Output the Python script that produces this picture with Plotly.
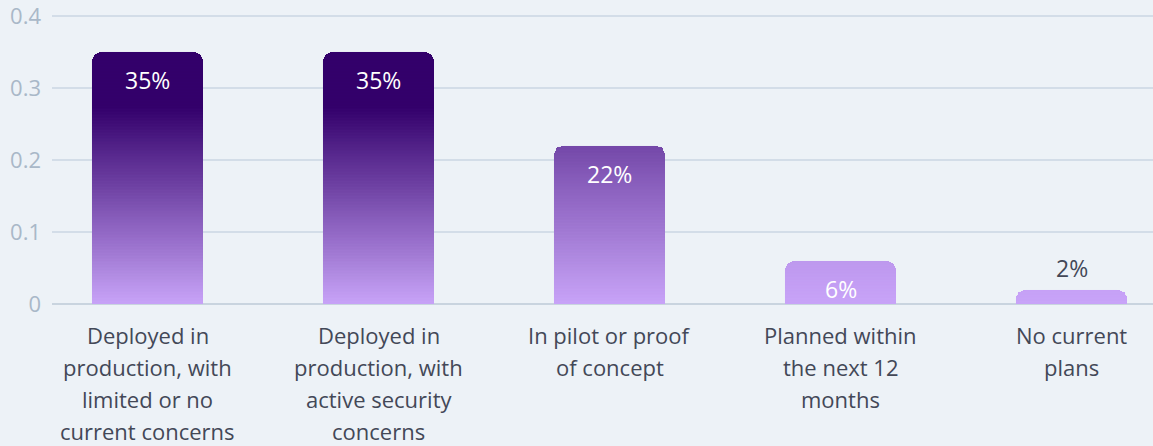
import plotly.graph_objects as go

# --- data -------------------------------------------------------------
categories = [
    "Deployed in production, with limited or no current concerns",
    "Deployed in production, with active security concerns",
    "In pilot or proof of concept",
    "Planned within the next 12 months",
    "No current plans",
]
label_lines = [
    ["Deployed in", "production, with", "limited or no", "current concerns"],
    ["Deployed in", "production, with", "active security", "concerns"],
    ["In pilot or proof", "of concept"],
    ["Planned within", "the next 12", "months"],
    ["No current", "plans"],
]
shares = [0.35, 0.35, 0.22, 0.06, 0.02]
value_labels = ["35%", "35%", "22%", "6%", "2%"]
y_ticks = [0, 0.1, 0.2, 0.3, 0.4]
y_tick_text = ["0", "0.1", "0.2", "0.3", "0.4"]

# --- style ------------------------------------------------------------
BG = "#edf2f7"
GRID = "#d3dde8"
TICK_COLOR = "#a9b8c8"
TEXT_DARK = "#434857"
LIGHT = (200, 164, 248)
DARK = (51, 0, 107)
FONT = "Open Sans"
SLICE = 0.4 / 288 * 1.5  # target height of the stacked slices forming the gradient


def mix(w):
    w = max(0.0, min(1.0, w))
    r, g, b = (round(LIGHT[i] + (DARK[i] - LIGHT[i]) * w) for i in range(3))
    return f"rgb({r},{g},{b})"


def shade(y, h):
    # darker toward the top, taller bars reach the deepest tone
    return mix(y * (h + 0.083) / 0.119)


xs = list(range(len(categories)))
fig = go.Figure()

# each bar is cut into equal slices so that every bar ends on a slice edge
counts = [max(1, round(h / SLICE)) for h in shares]
steps = [h / n for h, n in zip(shares, counts)]
for k in range(max(counts)):
    seg, cols = [], []
    for h, n, s in zip(shares, counts, steps):
        if k < n:
            seg.append(s)
            cols.append(shade((k + 0.5) * s, h))
        else:
            seg.append(None)
            cols.append("rgba(0,0,0,0)")
    fig.add_trace(go.Bar(
        x=xs, y=seg, width=0.48,
        marker=dict(color=cols, line=dict(color=cols, width=0.02)),
        hoverinfo="skip", showlegend=False,
    ))

# value labels
for x, h, t in zip(xs, shares, value_labels):
    inside = h >= 0.05
    fig.add_annotation(
        x=x, y=h, text=t, showarrow=False,
        yanchor="middle", yshift=-28 if inside else 22,
        font=dict(family=FONT, size=23, weight=500,
                  color="white" if inside else TEXT_DARK),
    )

# category labels, one annotation per line
for x, lines in zip(xs, label_lines):
    for i, line in enumerate(lines):
        fig.add_annotation(
            x=x, xref="x", y=0, yref="paper", text=line, showarrow=False,
            yanchor="middle", yshift=-30.5 - 32.3 * i,
            font=dict(family=FONT, size=22, color=TEXT_DARK),
        )

fig.update_layout(
    width=1153, height=446,
    margin=dict(l=52, r=0, t=15, b=142),
    paper_bgcolor=BG, plot_bgcolor=BG,
    barmode="stack", bargap=0, barcornerradius=10,
    font=dict(family=FONT),
    xaxis=dict(
        range=[-0.4134, 4.3528], showticklabels=False, showgrid=False,
        zeroline=False, showline=False, ticks="", fixedrange=True,
    ),
    yaxis=dict(
        range=[0, 0.4014], tickvals=y_ticks, ticktext=y_tick_text,
        showgrid=True, gridcolor=GRID, gridwidth=1.5,
        zeroline=True, zerolinecolor="#c9d4df", zerolinewidth=2,
        tickfont=dict(family=FONT, size=22, color=TICK_COLOR),
        ticklabelstandoff=10, showline=False, ticks="",
        ticklabeloverflow="allow",
    ),
)

fig.write_html("out.html")
